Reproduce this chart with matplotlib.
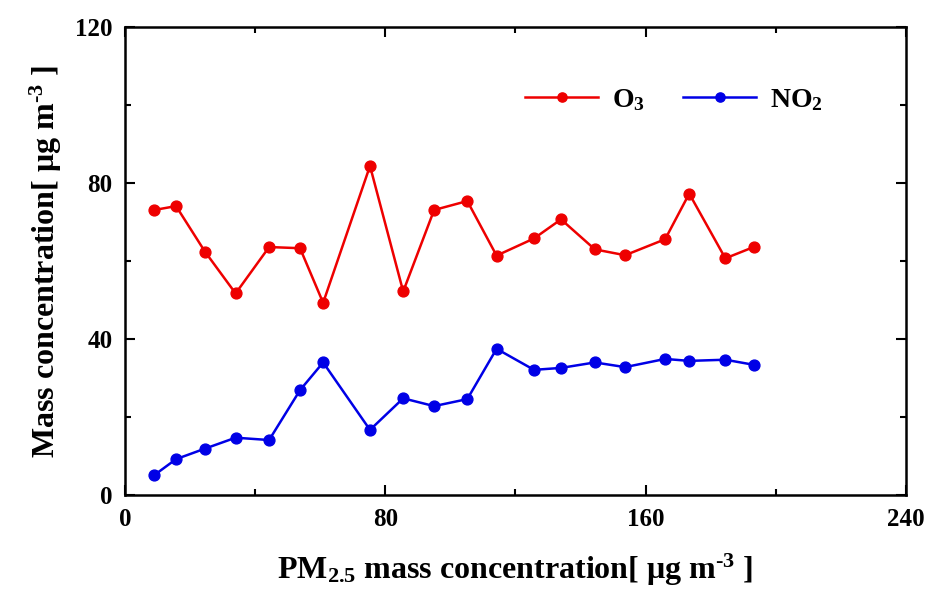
import matplotlib
matplotlib.use("Agg")
from matplotlib import pyplot as plt
from matplotlib.ticker import MultipleLocator

pm25 = [9.0, 15.7, 24.6, 34.0, 44.3, 53.8, 60.9, 75.3, 85.5, 95.0,
        105.2, 114.2, 125.7, 134.0, 144.4, 153.7, 166.0, 173.4, 184.5, 193.2]
o3 = [73.1, 74.1, 62.4, 51.7, 63.6, 63.3, 49.3, 84.4, 52.2, 73.1,
      75.4, 61.4, 65.8, 70.7, 63.0, 61.5, 65.6, 77.3, 60.7, 63.6]
no2 = [5.1, 9.2, 11.9, 14.7, 14.1, 26.9, 34.0, 16.7, 24.8, 22.8,
       24.6, 37.5, 32.1, 32.6, 34.0, 32.8, 34.9, 34.4, 34.7, 33.4]

plt.rcParams['font.family'] = ['Liberation Serif', 'DejaVu Serif']
plt.rcParams['font.weight'] = 'bold'
plt.rcParams['mathtext.fontset'] = 'custom'
plt.rcParams['mathtext.rm'] = 'Liberation Serif:bold'
plt.rcParams['mathtext.bf'] = 'Liberation Serif:bold'
plt.rcParams['mathtext.it'] = 'Liberation Serif:bold:italic'

fig = plt.figure(figsize=(9.27, 5.9), dpi=100)
ax = fig.add_axes([0.1348, 0.161, 0.8425, 0.793])

ax.plot(pm25, o3, color='#ee0000', lw=1.8, marker='o', ms=7.8, label=r'O$_\mathrm{3}$')
ax.plot(pm25, no2, color='#0000e6', lw=1.8, marker='o', ms=7.8, label=r'NO$_\mathrm{2}$')

ax.set_xlim(0, 240)
ax.set_ylim(0, 120)
ax.xaxis.set_major_locator(MultipleLocator(80))
ax.xaxis.set_minor_locator(MultipleLocator(40))
ax.yaxis.set_major_locator(MultipleLocator(40))
ax.yaxis.set_minor_locator(MultipleLocator(20))
ax.tick_params(which='both', direction='in', top=True, right=True, width=1.5,
               labelsize=18, pad=9)
ax.tick_params(which='major', length=7)
ax.tick_params(which='minor', length=4)
for s in ax.spines.values():
    s.set_linewidth(1.8)
for lab in ax.get_xticklabels() + ax.get_yticklabels():
    lab.set_fontweight('bold')

ax.set_xlabel(r'PM$_\mathrm{2.5}$ mass concentration[ μg m$^{\text{-}\mathrm{3}}$ ]',
              fontsize=23, fontweight='bold', labelpad=15)
ax.set_ylabel(r'Mass concentration[ μg m$^{\text{-}\mathrm{3}}$ ]',
              fontsize=23, fontweight='bold', labelpad=8)

ax.legend(ncol=2, frameon=False, loc='upper right', bbox_to_anchor=(0.925, 0.925),
          handlelength=2.6, handletextpad=0.5, columnspacing=1.4, markerscale=0.85,
          prop={'weight': 'bold', 'size': 20})

fig.savefig('out.png', dpi=100)
plt.close()
